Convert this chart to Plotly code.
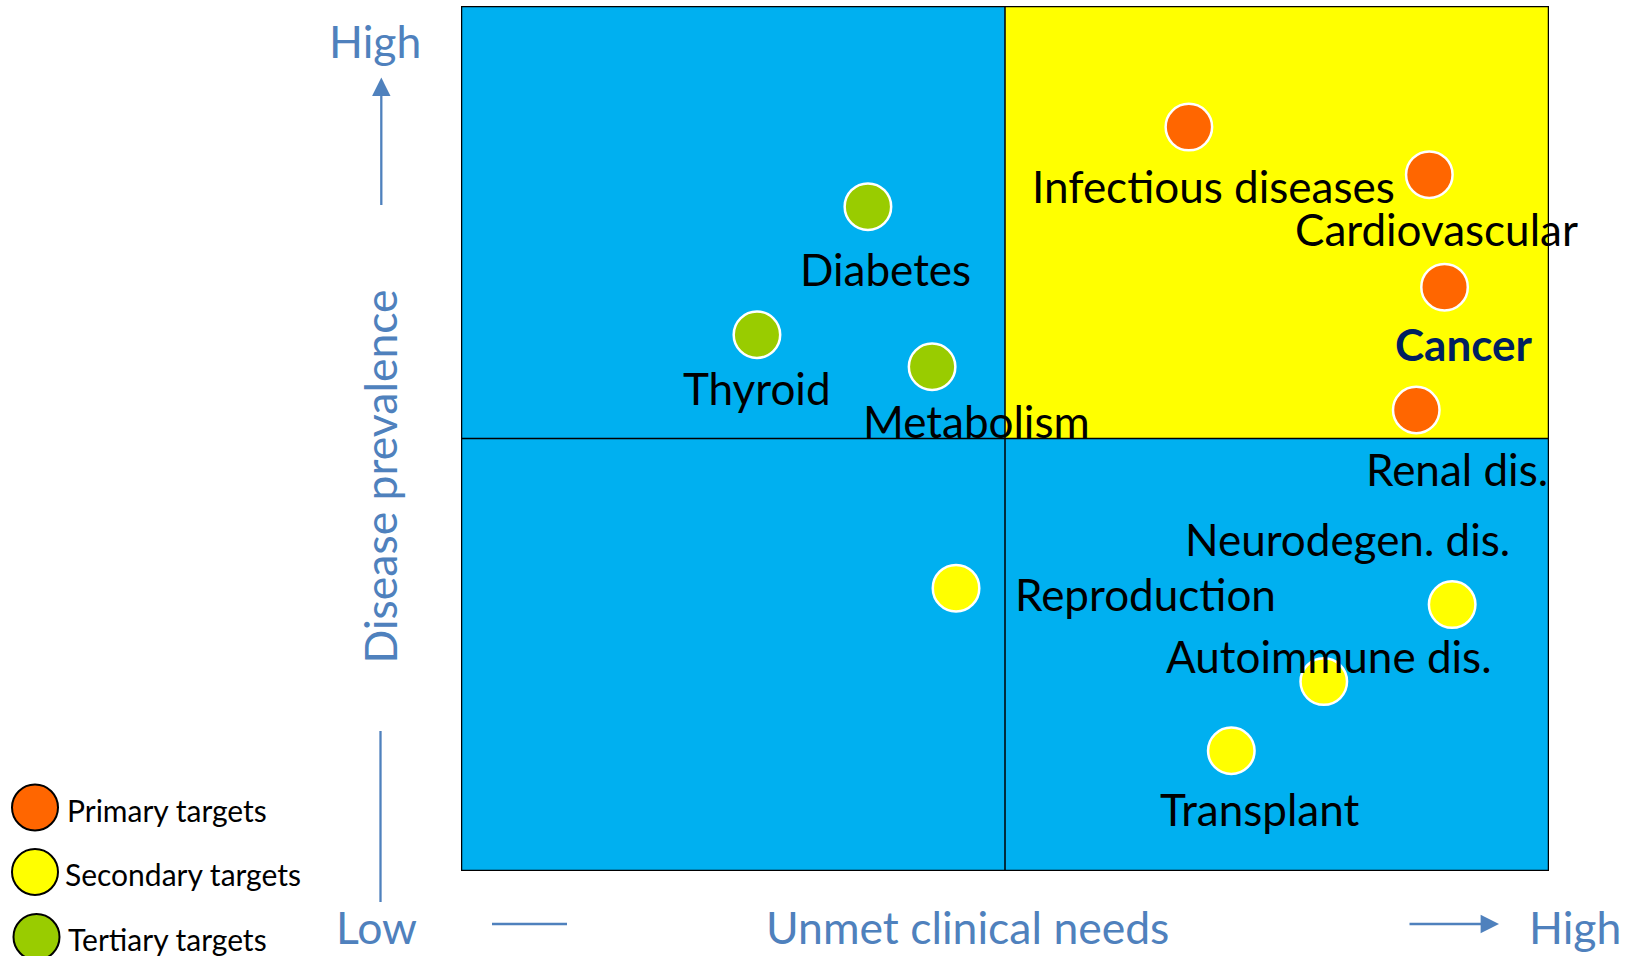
import plotly.graph_objects as go

# ---------------- data ----------------
names = ["Infectious diseases", "Cardiovascular", "Cancer", "Renal dis.",
         "Diabetes", "Thyroid", "Metabolism",
         "Reproduction", "Neurodegen. dis.", "Autoimmune dis.", "Transplant"]
unmet_need = [6.69, 8.90, 9.04, 8.78, 3.74, 2.72, 4.33, 4.55, 9.11, 7.93, 7.08]
prevalence = [8.60, 8.05, 6.75, 5.33, 7.68, 6.20, 5.83, 3.27, 3.08, 2.19, 1.39]
tier = ["Primary", "Primary", "Primary", "Primary",
        "Tertiary", "Tertiary", "Tertiary",
        "Secondary", "Secondary", "Secondary", "Secondary"]

legend_tiers = ["Primary", "Secondary", "Tertiary"]
legend_labels = ["Primary targets", "Secondary targets", "Tertiary targets"]

# ---------------- styles ----------------
W, H = 1630, 956
FONT = "Lato"
AXIS_BLUE = "#4F81BD"
tier_color = {"Primary": "#FF6600", "Secondary": "#FFFF00", "Tertiary": "#99CC00"}
# label offsets in pixels (dx right, dy down) relative to each point
label_dx = [25, 7, 19, 41, 18, 0, 44, 189, -105, 5, 28]
label_dy = [59, 54, 57, 59, 62, 53, 54, 6, -66, -26, 58]

# plot box in pixels
X0, X1, Y0, Y1 = 461, 1549, 6, 871


def px(x):
    return x / W


def py(y):
    return 1 - y / H


fig = go.Figure()

# quadrant backgrounds
quads = [(0, 5, 5, 10, "#00B0F0"), (5, 10, 5, 10, "#FFFF00"),
         (0, 5, 0, 5, "#00B0F0"), (5, 10, 0, 5, "#00B0F0")]
shapes = []
for qx0, qx1, qy0, qy1, c in quads:
    shapes.append(dict(type="rect", xref="x", yref="y", x0=qx0, x1=qx1, y0=qy0, y1=qy1,
                       fillcolor=c, line=dict(width=0), layer="below"))
shapes.append(dict(type="line", xref="x", yref="y", x0=5, x1=5, y0=0, y1=10,
                   line=dict(color="black", width=1.5), layer="below"))
shapes.append(dict(type="line", xref="x", yref="y", x0=0, x1=10, y0=5, y1=5,
                   line=dict(color="black", width=1.5), layer="below"))
shapes.append(dict(type="rect", xref="x", yref="y", x0=0, x1=10, y0=0, y1=10,
                   line=dict(color="black", width=2.5), layer="below"))

# points
for t in legend_tiers:
    idx = [i for i, v in enumerate(tier) if v == t]
    fig.add_trace(go.Scatter(
        x=[unmet_need[i] for i in idx], y=[prevalence[i] for i in idx],
        mode="markers", name=t, showlegend=False,
        marker=dict(size=46.5, color=tier_color[t], line=dict(color="white", width=2.5)),
        hovertext=[names[i] for i in idx], hoverinfo="text"))

annotations = []
for i, n in enumerate(names):
    bold = n == "Cancer"
    annotations.append(dict(
        x=unmet_need[i], y=prevalence[i], xref="x", yref="y",
        text=f"<b>{n}</b>" if bold else n, showarrow=False,
        xanchor="center", yanchor="middle",
        xshift=label_dx[i], yshift=-label_dy[i],
        font=dict(family=FONT, size=44, color="#002060" if bold else "black")))

# axis texts
blue_font = dict(family=FONT, size=44.5, color=AXIS_BLUE)


def txt(x, y, s, **kw):
    d = dict(x=px(x), y=py(y), xref="paper", yref="paper", text=s, showarrow=False,
             xanchor="center", yanchor="middle", font=blue_font)
    d.update(kw)
    return d


annotations += [
    txt(375, 41, "High"),
    txt(378.5, 477, "Disease prevalence", textangle=-90),
    txt(376, 926, "Low"),
    txt(967, 926, "Unmet clinical needs"),
    txt(1575, 926, "High"),
    # up arrow
    dict(x=px(381.3), y=py(77.5), xref="paper", yref="paper", text="", showarrow=True,
         ax=0, ay=129, arrowhead=2, arrowsize=1.6, arrowwidth=2.3, arrowcolor=AXIS_BLUE, standoff=0),
    # right arrow
    dict(x=px(1499), y=py(924), xref="paper", yref="paper", text="", showarrow=True,
         ax=-91, ay=0, arrowhead=2, arrowsize=1.6, arrowwidth=2.3, arrowcolor=AXIS_BLUE, standoff=0),
]
shapes += [
    dict(type="line", xref="paper", yref="paper", x0=px(380.5), x1=px(380.5), y0=py(731), y1=py(902),
         line=dict(color=AXIS_BLUE, width=2.3)),
    dict(type="line", xref="paper", yref="paper", x0=px(492), x1=px(567), y0=py(924), y1=py(924),
         line=dict(color=AXIS_BLUE, width=2.3)),
]

# legend (drawn manually for large circles)
leg_y = [807.5, 872, 937]
leg_cx = [35, 35, 36.5]
leg_tx = [65, 63, 66]
for k, t in enumerate(legend_tiers):
    shapes.append(dict(type="circle", xref="paper", yref="paper", xsizemode="pixel", ysizemode="pixel",
                       xanchor=px(leg_cx[k]), yanchor=py(leg_y[k]), x0=-23, x1=23, y0=-23, y1=23,
                       fillcolor=tier_color[t], line=dict(color="black", width=2)))
    annotations.append(dict(x=px(leg_tx[k]), y=py(leg_y[k] + 2), xref="paper", yref="paper",
                            text=legend_labels[k], showarrow=False, xanchor="left", yanchor="middle",
                            font=dict(family=FONT, size=30, color="black")))

fig.update_layout(
    width=W, height=H, margin=dict(l=0, r=0, t=0, b=0),
    paper_bgcolor="white", plot_bgcolor="white",
    xaxis=dict(range=[0, 10], domain=[px(X0), px(X1)], showgrid=False, zeroline=False,
               showticklabels=False, ticks="", fixedrange=True),
    yaxis=dict(range=[0, 10], domain=[py(Y1), py(Y0)], showgrid=False, zeroline=False,
               showticklabels=False, ticks="", fixedrange=True),
    shapes=shapes, annotations=annotations, showlegend=False,
)

fig.write_html("out.html", config={"displayModeBar": False},
               post_script="document.body.style.margin='0';document.body.style.overflow='hidden';")
